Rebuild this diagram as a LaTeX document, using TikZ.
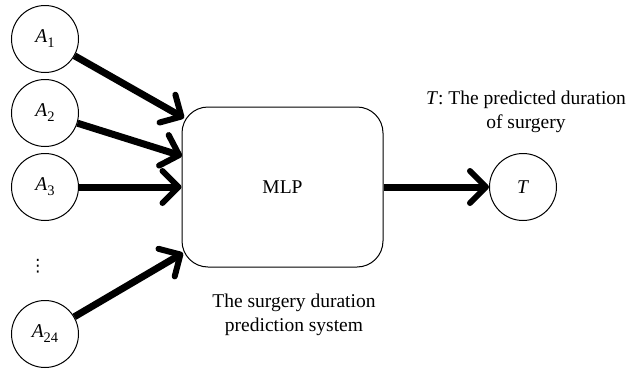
\documentclass[tikz,border=0pt]{standalone}
\usepackage{fontspec}
\setmainfont{Liberation Serif}
\newfontfamily\symfont{DejaVu Sans}
\usetikzlibrary{arrows.meta}
\newcommand{\sub}[2]{\textit{#1}\raisebox{-0.55ex}{\fontsize{14.5}{14.5}\selectfont #2}}

\begin{document}
\begin{tikzpicture}[x=1pt, y=-1pt,
  every node/.style={font=\fontsize{19.5}{24}\selectfont},
  unit/.style={draw, circle, line width=1pt, minimum size=67pt, inner sep=0pt},
  netbox/.style={draw, rounded corners=26pt, line width=1pt, minimum width=201pt, minimum height=160pt},
  feed/.style={line width=7pt, -{Straight Barb[length=16pt, width=32pt, line width=6pt, line cap=round, round]}}]
  \useasboundingbox (0,0) rectangle (633,370);
  % inputs
  \node[unit] (a1) at (45,39) {\sub{A}{1}};
  \node[unit] (a2) at (45,113) {\sub{A}{2}};
  \node[unit] (a3) at (45,187) {\sub{A}{3}};
  \node[font=\symfont\fontsize{17}{17}\selectfont] (dots) at (38,266) {⋮};
  \node[unit] (a24) at (45,334) {\sub{A}{24}};
  % network
  \node[netbox] (mlp) at (282.5,187) {MLP};
  \node[unit] (t) at (523,187) {\textit{T}};
  \coordinate (in1) at (184,118);
  \coordinate (in2) at (182,156);
  \coordinate (in24) at (183,253);
  \draw[feed] (a1) -- (in1);
  \draw[feed] (a2) -- (in2);
  \draw[feed] (a3) -- (mlp.west);
  \draw[feed] (a24) -- (in24);
  \draw[feed] (mlp.east) -- (t);
  % labels
  \node[align=center, inner sep=0pt] (tlabel) at (526,112) {\textit{T}: The predicted duration\\of surgery};
  \node[align=center, inner sep=0pt] (syslabel) at (294,315) {The surgery duration\\prediction system};
\end{tikzpicture}
\end{document}
